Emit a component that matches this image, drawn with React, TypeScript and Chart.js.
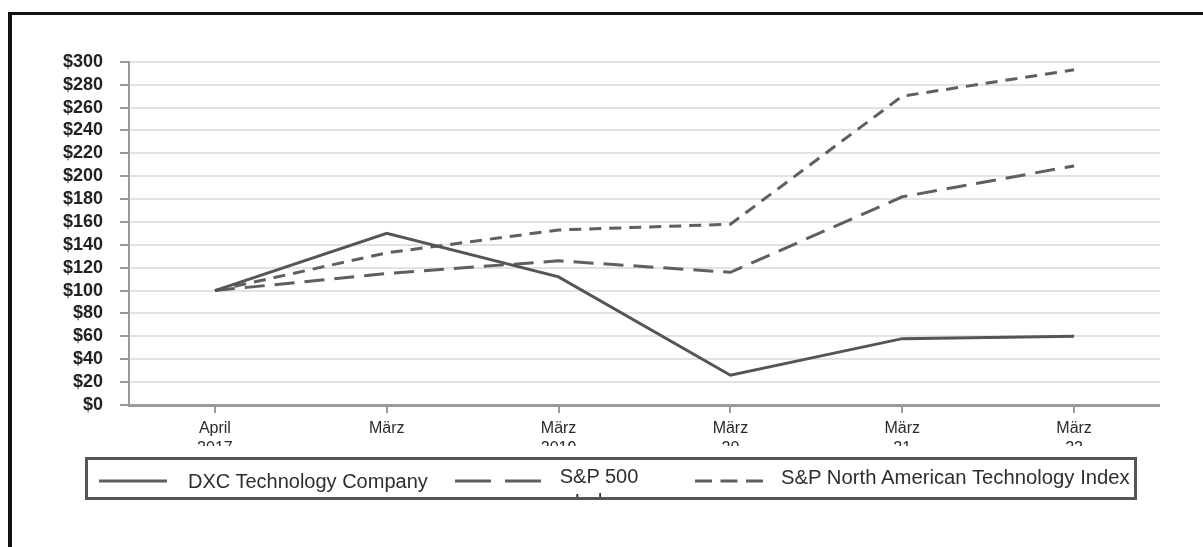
import React, { useEffect, useRef } from "react";
import { Chart, registerables } from "chart.js";

Chart.register(...registerables);

const categories: (string | string[])[] = [
  ["April", "2017"],
  ["März"],
  ["März", "2019"],
  ["März", "20"],
  ["März", "21"],
  ["März", "22"],
];
const dxcValues = [100, 150, 112, 26, 58, 60];
const sp500Values = [100, 115, 126, 116, 182, 209];
const techValues = [100, 133, 153, 158, 270, 293];
const seriesNames = [
  "DXC Technology Company",
  "S&P 500 Index",
  "S&P North American Technology Index",
];
const yTicks = { min: 0, max: 300, step: 20 };

const LINE = "#5f5f5f";
const FONT = "'Liberation Sans', Arial, sans-serif";

function DashSample({ width, dash }: { width: number; dash?: string }) {
  return (
    <svg width={width} height={6} style={{ display: "block" }}>
      <line
        x1={0}
        y1={3}
        x2={width}
        y2={3}
        stroke={LINE}
        strokeWidth={3}
        strokeDasharray={dash}
      />
    </svg>
  );
}

export default function App() {
  const canvasRef = useRef<HTMLCanvasElement | null>(null);

  useEffect(() => {
    if (!canvasRef.current) return;
    const chart = new Chart(canvasRef.current, {
      type: "line",
      data: {
        labels: categories,
        datasets: [
          {
            label: seriesNames[0],
            data: dxcValues,
            borderColor: "#555555",
            borderWidth: 3,
            pointRadius: 0,
            tension: 0,
          },
          {
            label: seriesNames[1],
            data: sp500Values,
            borderColor: LINE,
            borderWidth: 3,
            borderDash: [20, 10],
            pointRadius: 0,
            tension: 0,
          },
          {
            label: seriesNames[2],
            data: techValues,
            borderColor: LINE,
            borderWidth: 3,
            borderDash: [12, 8],
            pointRadius: 0,
            tension: 0,
          },
        ],
      },
      options: {
        animation: false,
        responsive: false,
        maintainAspectRatio: false,
        layout: { padding: { top: 0, left: 0, right: 0, bottom: 0 } },
        plugins: { legend: { display: false }, tooltip: { enabled: false } },
        scales: {
          x: {
            offset: true,
            grid: {
              offset: false,
              drawOnChartArea: false,
              drawTicks: true,
              tickLength: 8,
              tickColor: "#9a9a9a",
              lineWidth: 2,
            },
            border: { color: "#9a9a9a", width: 3 },
            ticks: {
              color: "#2a2a2a",
              padding: 6,
              font: { family: FONT, size: 16, lineHeight: 1.25 },
              maxRotation: 0,
              autoSkip: false,
            },
            afterFit: (s: any) => {
              s.height = 41;
            },
          },
          y: {
            min: yTicks.min,
            max: yTicks.max,
            grid: {
              color: "#e3e3e3",
              lineWidth: 2,
              drawTicks: true,
              tickLength: 9,
              tickColor: "#9a9a9a",
            },
            border: { color: "#9a9a9a", width: 2 },
            ticks: {
              stepSize: yTicks.step,
              autoSkip: false,
              color: "#222222",
              padding: 17,
              font: { family: FONT, size: 18, weight: "bold" },
              callback: (v: any) => "$" + v,
            },
            afterFit: (s: any) => {
              s.width = 109;
            },
          },
        },
      },
    });
    return () => chart.destroy();
  }, []);

  return (
    <div>
      <div
        style={{
          position: "fixed",
          left: 8,
          top: 12,
          right: -10,
          bottom: -10,
          borderTop: "3px solid #111",
          borderLeft: "4px solid #111",
        }}
      />
      <canvas
        ref={canvasRef}
        width={1140}
        height={412}
        style={{ position: "fixed", left: 20, top: 34, width: 1140, height: 412 }}
      />
      <div
        style={{
          position: "fixed",
          left: 85,
          top: 457,
          width: 1052,
          height: 43,
          boxSizing: "border-box",
          border: "3px solid #555",
          overflow: "hidden",
          fontFamily: FONT,
          fontSize: 20,
          color: "#2e2e2e",
        }}
      >
        <div style={{ position: "absolute", left: 11, top: 18 }}>
          <DashSample width={68} />
        </div>
        <div style={{ position: "absolute", left: 100, top: 9, lineHeight: "24px", whiteSpace: "nowrap" }}>
          {seriesNames[0]}
        </div>
        <div style={{ position: "absolute", left: 367, top: 18 }}>
          <DashSample width={88} dash="36 14" />
        </div>
        <div
          style={{
            position: "absolute",
            left: 466,
            top: 4,
            width: 90,
            lineHeight: "25px",
            textAlign: "center",
          }}
        >
          {seriesNames[1]}
        </div>
        <div style={{ position: "absolute", left: 607, top: 18 }}>
          <DashSample width={68} dash="17 8.5" />
        </div>
        <div
          style={{
            position: "absolute",
            left: 693,
            top: 5,
            lineHeight: "24px",
            whiteSpace: "nowrap",
            fontSize: 20.3,
          }}
        >
          {seriesNames[2]}
        </div>
      </div>
    </div>
  );
}
